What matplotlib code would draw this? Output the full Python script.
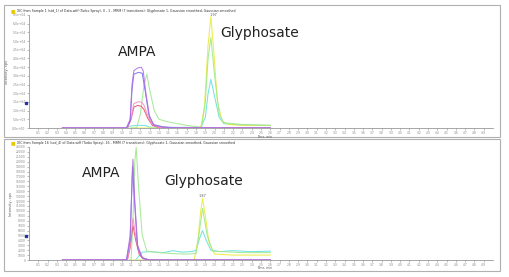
import matplotlib.pyplot as plt
from matplotlib.patches import Rectangle

# ---- top panel traces (time min, intensity cps)
top_t_purple = [0.36, 1.05, 1.09, 1.11, 1.13, 1.17, 1.21, 1.23, 1.26, 1.30, 1.35, 1.45, 1.60, 2.60]
top_i_purple = [0, 0, 5000, 25000, 33000, 34500, 35000, 33000, 20000, 6000, 1500, 500, 0, 0]
top_t_violet = [0.36, 1.05, 1.09, 1.11, 1.13, 1.18, 1.22, 1.25, 1.29, 1.34, 1.45, 1.60, 2.60]
top_i_violet = [0, 0, 4000, 22000, 31000, 32000, 31500, 22000, 8000, 2000, 600, 0, 0]
top_t_pink = [0.36, 1.06, 1.10, 1.13, 1.17, 1.21, 1.24, 1.28, 1.33, 1.40, 2.60]
top_i_pink = [0, 0, 6000, 14000, 15000, 15000, 13000, 7000, 2000, 300, 0]
top_t_red = [0.36, 1.06, 1.10, 1.13, 1.17, 1.21, 1.24, 1.28, 1.33, 1.40, 2.60]
top_i_red = [0, 0, 5000, 12000, 13000, 12500, 10500, 5500, 1500, 200, 0]
top_t_green = [1.10, 1.16, 1.20, 1.24, 1.27, 1.30, 1.35, 1.40, 1.50, 1.60, 1.70, 1.80, 1.86,
               1.90, 1.93, 1.96, 2.00, 2.05, 2.10, 2.30, 2.60]
top_i_green = [0, 0, 8000, 25000, 31000, 22000, 10000, 5000, 3500, 2500, 1500, 800, 500,
               15000, 40000, 52000, 30000, 8000, 3000, 2000, 1500]
top_t_yellow = [1.10, 1.85, 1.89, 1.93, 1.96, 1.99, 2.03, 2.08, 2.15, 2.30, 2.60]
top_i_yellow = [0, 0, 12000, 48000, 64000, 45000, 15000, 4000, 2000, 1500, 1500]
top_t_cyan = [1.05, 1.10, 1.15, 1.25, 1.30, 1.85, 1.90, 1.93, 1.96, 2.00, 2.05, 2.10, 2.30, 2.60]
top_i_cyan = [0, 1200, 1500, 1500, 500, 300, 6000, 20000, 28000, 18000, 6000, 2500, 1800, 1500]

# ---- bottom panel traces
bot_t_green = [1.08, 1.10, 1.12, 1.14, 1.155, 1.18, 1.22, 1.27, 1.40, 1.55, 1.70, 1.80,
               1.83, 1.87, 1.92, 1.98, 2.30, 2.60]
bot_i_green = [0, 0, 8000, 20000, 23000, 15000, 5000, 1800, 1500, 1300, 1200, 1300,
               5000, 10500, 5000, 1800, 1500, 1500]
bot_t_purple = [0.36, 1.05, 1.09, 1.12, 1.14, 1.17, 1.22, 1.30, 2.60]
bot_i_purple = [0, 0, 5000, 20500, 12000, 3000, 500, 0, 0]
bot_t_violet = [0.36, 1.05, 1.09, 1.115, 1.14, 1.17, 1.22, 1.30, 2.60]
bot_i_violet = [0, 0, 4000, 19000, 11000, 2500, 400, 0, 0]
bot_t_pink = [0.36, 1.06, 1.09, 1.12, 1.15, 1.19, 1.25, 2.60]
bot_i_pink = [0, 0, 3000, 8500, 5000, 1200, 0, 0]
bot_t_red = [0.36, 1.06, 1.09, 1.12, 1.15, 1.19, 1.25, 2.60]
bot_i_red = [0, 0, 2500, 7000, 4000, 1000, 0, 0]
bot_t_yellow = [1.10, 1.78, 1.82, 1.85, 1.87, 1.90, 1.94, 2.00, 2.20, 2.60]
bot_i_yellow = [0, 0, 4000, 10000, 12500, 9000, 3500, 1200, 1000, 1000]
bot_t_cyan = [1.15, 1.22, 1.30, 1.45, 1.55, 1.65, 1.75, 1.80, 1.84, 1.87, 1.91, 1.96, 2.05,
              2.20, 2.40, 2.60]
bot_i_cyan = [0, 1600, 1700, 1500, 1900, 1600, 1700, 2000, 4500, 6000, 4000, 2000, 1700,
              1900, 1700, 1800]

top_yticks = list(range(0, 65001, 5000))
bot_yticks = list(range(0, 23001, 1000))
x_ticks = [i / 10 for i in range(1, 50)]

fig = plt.figure(figsize=(5.09, 2.77), dpi=100)

# panel frames
for y0, h in [(140 / 277, 132 / 277), (6 / 277, 132 / 277)]:
    fig.patches.append(Rectangle((4 / 509, y0), 496 / 509, h, transform=fig.transFigure,
                                 fill=False, edgecolor='#b0b0b0', linewidth=0.8))

title_top = 'XIC from Sample 1 (std_1) of Data.wiff (Turbo Spray), 0 - 1 - MRM (7 transitions): Glyphosate 1, Gaussian smoothed, Gaussian smoothed'
title_bot = 'XIC from Sample 16 (soil_4) of Data.wiff (Turbo Spray), 16 - MRM (7 transitions): Glyphosate 1, Gaussian smoothed, Gaussian smoothed'

def panel(rect, ylim, yticks, traces, title, ty, peak_label, blue_y):
    ax = fig.add_axes(rect)
    for t, i, c in traces:
        ax.plot(t, i, color=c, linewidth=0.75, alpha=0.9)
    ax.set_xlim(0, 5.0)
    ax.set_ylim(0, ylim)
    ax.set_xticks(x_ticks)
    ax.set_xticklabels(['%.1f' % v for v in x_ticks], fontsize=2.2, color='#555555')
    ax.set_yticks(yticks)
    if ylim > 30000:
        ax.set_yticklabels(['%.1e' % v for v in yticks], fontsize=2.2, color='#555555')
    else:
        ax.set_yticklabels([str(v) for v in yticks], fontsize=2.2, color='#555555')
    ax.tick_params(length=1.5, width=0.4, pad=1, colors='#888888')
    for s in ['top', 'right']:
        ax.spines[s].set_visible(False)
    for s in ['left', 'bottom']:
        ax.spines[s].set_color('#999999')
        ax.spines[s].set_linewidth(0.6)
    ax.set_ylabel('Intensity, cps', fontsize=2.5, color='#555555', labelpad=2)
    fig.text(11 / 509, ty, '\u25a0', fontsize=3.5, color='#e8c800', va='center')
    fig.text(17 / 509, ty, title, fontsize=2.3, color='#333333', va='center')
    ax.plot([-0.03], [blue_y], marker='s', markersize=2, color='#2233aa', clip_on=False)
    ax.text(peak_label[0], peak_label[1], peak_label[2], fontsize=2.5, color='#555555',
            ha='center', va='bottom')
    return ax

ax1 = panel([29 / 509, 1 - 128 / 277, 464 / 509, 113 / 277], 65000, top_yticks,
            [(top_t_cyan, top_i_cyan, '#66e0e0'), (top_t_yellow, top_i_yellow, '#eaea3a'),
             (top_t_green, top_i_green, '#9ee88e'), (top_t_red, top_i_red, '#e8506a'),
             (top_t_pink, top_i_pink, '#f590c0'), (top_t_violet, top_i_violet, '#7a6cf0'),
             (top_t_purple, top_i_purple, '#b070e0')],
            title_top, 1 - 11 / 277, (1.99, 64000, '1.97'), 14500)
ax1.text(1.17, 43700, 'AMPA', fontsize=10, ha='center', va='center', color='#222222')
ax1.text(2.49, 54600, 'Glyphosate', fontsize=10, ha='center', va='center', color='#222222')

ax2 = panel([29 / 509, 1 - 260 / 277, 464 / 509, 113 / 277], 23000, bot_yticks,
            [(bot_t_cyan, bot_i_cyan, '#66e0e0'), (bot_t_yellow, bot_i_yellow, '#eaea3a'),
             (bot_t_green, bot_i_green, '#9ee88e'), (bot_t_red, bot_i_red, '#e8506a'),
             (bot_t_pink, bot_i_pink, '#f590c0'), (bot_t_violet, bot_i_violet, '#7a6cf0'),
             (bot_t_purple, bot_i_purple, '#b070e0')],
            title_bot, 1 - 143 / 277, (1.87, 12700, '1.87'), 4800)
ax2.text(0.78, 17700, 'AMPA', fontsize=10, ha='center', va='center', color='#222222')
ax2.text(1.88, 16000, 'Glyphosate', fontsize=10, ha='center', va='center', color='#222222')

fig.text(257 / 509, 1 - 136.5 / 277, 'Time, min', fontsize=2.2, color='#555555', va='center')
fig.text(257 / 509, 1 - 268 / 277, 'Time, min', fontsize=2.2, color='#555555', va='center')

fig.savefig('out.png', dpi=100)
